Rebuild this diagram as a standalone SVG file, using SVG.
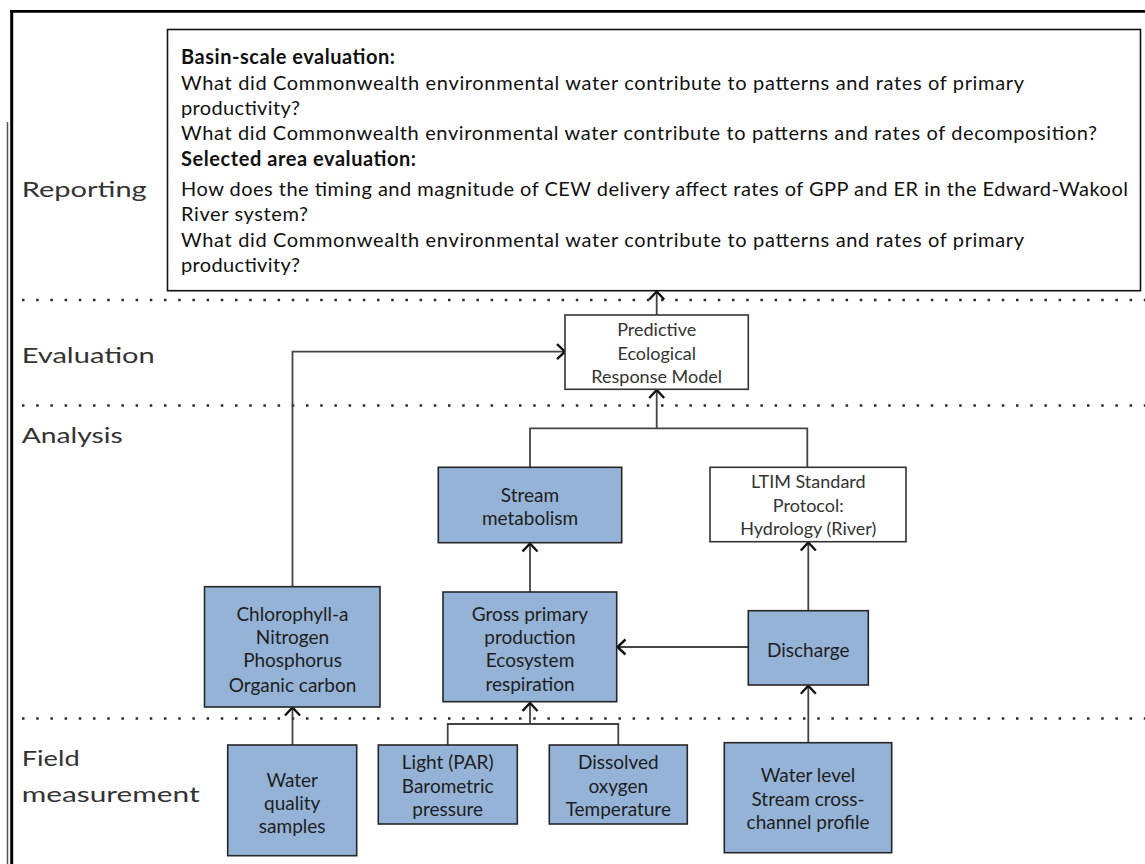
<svg xmlns="http://www.w3.org/2000/svg" width="1145" height="864" viewBox="0 0 1145 864">
<defs>
<marker id="arr" markerUnits="userSpaceOnUse" markerWidth="20" markerHeight="20" refX="0" refY="0" viewBox="-12 -10 14 20" orient="auto" overflow="visible">
<path d="M -8 -7.5 L 0 0 L -8 7.5" fill="none" stroke="#111" stroke-width="2.4" stroke-linejoin="miter"/>
</marker>
</defs>
<style>
.frame{stroke:#000;fill:none}
.dots{stroke:#2b2b2b;stroke-width:2.5;stroke-dasharray:2.5 11.7;fill:none}
.lbl{font-family:Lato,"Liberation Sans",sans-serif;font-size:21px;fill:#333}
.rep{font-family:Lato,"Liberation Sans",sans-serif;font-size:20px;fill:#111}
.repb{font-weight:bold}
.box{fill:#95b3d7;stroke:#262626;stroke-width:1.6}
.wbox{fill:#fff;stroke:#333;stroke-width:1.6}
.t{font-family:Lato,"Liberation Sans",sans-serif;font-size:19px;fill:#1e1e1e;text-anchor:middle}
.tw{font-family:Lato,"Liberation Sans",sans-serif;font-size:18px;fill:#333;text-anchor:middle}
.con{fill:none;stroke:#444;stroke-width:1.8}
</style>
<rect width="1145" height="864" fill="#fff"/>
<g id="frame">
<line class="frame" x1="10" y1="11.3" x2="1145" y2="11.3" stroke-width="2.7"/>
<line class="frame" x1="11.7" y1="10" x2="11.7" y2="864" stroke-width="3"/>
<line x1="7.5" y1="122" x2="7.5" y2="864" stroke="#555" stroke-width="1.5"/>
</g>
<g id="dividers">
<line class="dots" x1="22" y1="300" x2="1145" y2="300"/>
<line class="dots" x1="22" y1="405.5" x2="1145" y2="405.5"/>
<line class="dots" x1="22" y1="718.5" x2="1145" y2="718.5"/>
</g>
<g id="labels">
<text class="lbl" x="21.7" y="196.7" textLength="125" lengthAdjust="spacingAndGlyphs">Reporting</text>
<text class="lbl" x="21.7" y="363.3" textLength="133" lengthAdjust="spacingAndGlyphs">Evaluation</text>
<text class="lbl" x="21.7" y="442.7" textLength="101" lengthAdjust="spacingAndGlyphs">Analysis</text>
<text class="lbl" x="21.7" y="766" textLength="58" lengthAdjust="spacingAndGlyphs">Field</text>
<text class="lbl" x="21.7" y="801.7" textLength="178" lengthAdjust="spacingAndGlyphs">measurement</text>
</g>
<g id="connectors">
<path class="con" d="M292.5,586.7 V351.7 H565" marker-end="url(#arr)"/>
<path class="con" d="M656.7,315 V291.5" marker-end="url(#arr)"/>
<path class="con" d="M530,467.3 V428.3 H807.3 V467.3"/>
<path class="con" d="M656.7,428.3 V390" marker-end="url(#arr)"/>
<path class="con" d="M530,592.3 V543.5" marker-end="url(#arr)"/>
<path class="con" d="M808.3,610.7 V542.5" marker-end="url(#arr)"/>
<path class="con" d="M748.3,647 H617.5" marker-end="url(#arr)"/>
<path class="con" d="M808.3,742.7 V685.8" marker-end="url(#arr)"/>
<path class="con" d="M447.7,745 V724 H618.3 V745"/>
<path class="con" d="M530,724 V703" marker-end="url(#arr)"/>
<path class="con" d="M292.5,745 V707.5" marker-end="url(#arr)"/>
</g>
<g id="reporting-box">
<rect x="167.5" y="29.5" width="973" height="261.2" fill="#fff" stroke="#111" stroke-width="1.6"/>
<text class="rep repb" x="181" y="63.5" textLength="214" lengthAdjust="spacing">Basin-scale evaluation:</text>
<text class="rep" x="181" y="89.5" textLength="843" lengthAdjust="spacing">What did Commonwealth environmental water contribute to patterns and rates of primary</text>
<text class="rep" x="181" y="114.8" textLength="119" lengthAdjust="spacing">productivity?</text>
<text class="rep" x="181" y="140.2" textLength="916" lengthAdjust="spacing">What did Commonwealth environmental water contribute to patterns and rates of decomposition?</text>
<text class="rep repb" x="181" y="166" textLength="235" lengthAdjust="spacing">Selected area evaluation:</text>
<text class="rep" x="181" y="195.5" textLength="947" lengthAdjust="spacing">How does the timing and magnitude of CEW delivery affect rates of GPP and ER in the Edward-Wakool</text>
<text class="rep" x="181" y="221" textLength="127" lengthAdjust="spacing">River system?</text>
<text class="rep" x="181" y="246.7" textLength="843" lengthAdjust="spacing">What did Commonwealth environmental water contribute to patterns and rates of primary</text>
<text class="rep" x="181" y="272.3" textLength="119" lengthAdjust="spacing">productivity?</text>
</g>
<g id="perm">
<rect class="wbox" x="565" y="315" width="183.3" height="74.3"/>
<text class="tw" x="656.7" y="336">Predictive</text>
<text class="tw" x="656.7" y="360">Ecological</text>
<text class="tw" x="656.7" y="383.3">Response Model</text>
</g>
<g id="stream-metabolism">
<rect class="box" x="438.3" y="467.3" width="183.4" height="75.4"/>
<text class="t" x="530" y="501.7">Stream</text>
<text class="t" x="530" y="525">metabolism</text>
</g>
<g id="ltim">
<rect class="wbox" x="710" y="467.3" width="196" height="74.4"/>
<text class="tw" x="808.3" y="488.3">LTIM Standard</text>
<text class="tw" x="808.3" y="511.7">Protocol:</text>
<text class="tw" x="808.3" y="535">Hydrology (River)</text>
</g>
<g id="chlorophyll">
<rect class="box" x="204.5" y="586.7" width="175.5" height="120.3"/>
<text class="t" x="292.5" y="620.5">Chlorophyll-a</text>
<text class="t" x="292.5" y="643.5">Nitrogen</text>
<text class="t" x="292.5" y="667.3">Phosphorus</text>
<text class="t" x="292.5" y="691.5">Organic carbon</text>
</g>
<g id="gpp-er">
<rect class="box" x="443" y="592" width="173.7" height="109.7"/>
<text class="t" x="530" y="620.5">Gross primary</text>
<text class="t" x="530" y="643.5">production</text>
<text class="t" x="530" y="667.3">Ecosystem</text>
<text class="t" x="530" y="691.2">respiration</text>
</g>
<g id="discharge">
<rect class="box" x="748.3" y="610.7" width="120" height="74.3"/>
<text class="t" x="808.3" y="656.7">Discharge</text>
</g>
<g id="water-quality">
<rect class="box" x="227.7" y="745" width="129" height="110.7"/>
<text class="t" x="292.2" y="786.7">Water</text>
<text class="t" x="292.2" y="810">quality</text>
<text class="t" x="292.2" y="833.3">samples</text>
</g>
<g id="light-par">
<rect class="box" x="378.3" y="745" width="139" height="79"/>
<text class="t" x="447.7" y="769.3">Light (PAR)</text>
<text class="t" x="447.7" y="792.7">Barometric</text>
<text class="t" x="447.7" y="816">pressure</text>
</g>
<g id="dissolved-oxygen">
<rect class="box" x="549.3" y="745" width="138" height="79"/>
<text class="t" x="618.3" y="769.3">Dissolved</text>
<text class="t" x="618.3" y="792.7">oxygen</text>
<text class="t" x="618.3" y="816">Temperature</text>
</g>
<g id="water-level">
<rect class="box" x="724.3" y="742.7" width="167.4" height="110"/>
<text class="t" x="808" y="781.7">Water level</text>
<text class="t" x="808" y="806">Stream cross-</text>
<text class="t" x="808" y="829.3">channel profile</text>
</g>
</svg>
